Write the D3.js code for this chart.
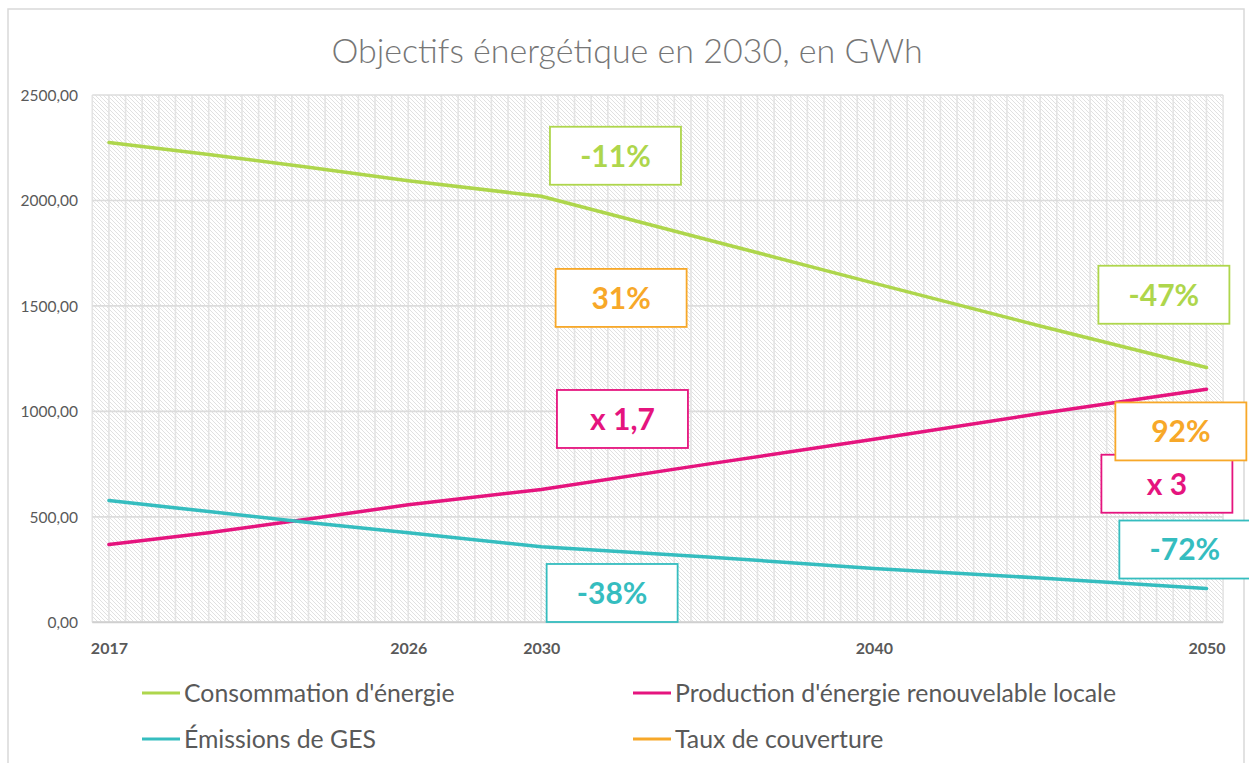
<!DOCTYPE html>
<html>
<head>
<meta charset="utf-8">
<script src="https://cdn.jsdelivr.net/npm/d3@7"></script>
<style>
  html, body { margin: 0; padding: 0; background: #ffffff; }
  svg { display: block; }
</style>
</head>
<body>
<svg id="chart" width="1249" height="763"></svg>
<script>
// ---------------- DATA ----------------
const titleText = "Objectifs énergétique en 2030, en GWh";
const years = [2017,2018,2019,2020,2021,2022,2023,2024,2025,2026,2027,2028,2029,2030,2031,2032,2033,
               2034,2035,2036,2037,2038,2039,2040,2041,2042,2043,2044,2045,2046,2047,2048,2049,2050];
const xTickLabels = [2017, 2026, 2030, 2040, 2050];
const yTicks = [0, 500, 1000, 1500, 2000, 2500];

const seriesNames = ["Consommation d'énergie", "Production d'énergie renouvelable locale", "Émissions de GES", "Taux de couverture"];
const seriesColors = ["#aed64c", "#e5147e", "#35bdbf", "#f7a829"];

const pointYears   = [2017, 2020, 2023, 2026, 2030, 2035, 2040, 2045, 2050];
const consommation = [2275, 2218, 2157, 2093, 2020, 1814, 1608, 1405, 1208];
const production   = [369,  425,  490,  557,  630,  750,  868,  990,  1105];
const emissions    = [577,  525,  473,  425,  358,  310,  255,  210,  160];

// annotation boxes (label, series index, anchor year, anchor value)
const annotLabels = ["-11%", "31%", "-47%", "x 1,7", "x 3", "92%", "-38%", "-72%"];
const annotSeries = [0, 3, 0, 1, 1, 3, 2, 2];
const annotYears  = [2032.23, 2032.4, 2048.72, 2032.44, 2048.81, 2049.23, 2032.13, 2049.35];
const annotValues = [2212, 1538, 1553, 964, 657, 905, 139, 345];

// ---------------- LAYOUT ----------------
const plot = { left: 92.3, right: 1223.1, top: 95, bottom: 622.3 };
const svg = d3.select("#chart");
const FONT = "Lato, 'Open Sans', 'DejaVu Sans', sans-serif";

const x = d3.scaleLinear().domain([years[0] - 0.5, years[years.length - 1] + 0.5]).range([plot.left, plot.right]);
const y = d3.scaleLinear().domain([0, 2500]).range([plot.bottom, plot.top]);

// chart area border
svg.append("rect").attr("x", 8).attr("y", 9).attr("width", 1236).attr("height", 770)
  .attr("fill", "#ffffff").attr("stroke", "#d9d9d9").attr("stroke-width", 1.5);

// hatch pattern
const defs = svg.append("defs");
const pat = defs.append("pattern").attr("id", "hatch").attr("patternUnits", "userSpaceOnUse")
  .attr("width", 4).attr("height", 4);
pat.append("rect").attr("width", 4).attr("height", 4).attr("fill", "#ffffff");
pat.append("path").attr("d", "M0,0 L4,4 M-1,3 L1,5 M3,-1 L5,1")
  .attr("stroke", "#dedede").attr("stroke-width", 0.9);

svg.append("rect").attr("x", plot.left).attr("y", plot.top)
  .attr("width", plot.right - plot.left).attr("height", plot.bottom - plot.top)
  .attr("fill", "url(#hatch)");

// vertical gridlines (category boundaries and centres)
const vGrid = d3.range(years[0] - 0.5, years[years.length - 1] + 0.51, 0.5);
svg.append("g").selectAll("line").data(vGrid).join("line")
  .attr("x1", d => x(d)).attr("x2", d => x(d))
  .attr("y1", plot.top).attr("y2", plot.bottom)
  .attr("stroke", "#e4e4e4").attr("stroke-width", 1.6);

// horizontal gridlines
svg.append("g").selectAll("line").data(yTicks).join("line")
  .attr("x1", plot.left).attr("x2", plot.right)
  .attr("y1", d => y(d)).attr("y2", d => y(d))
  .attr("stroke", "#dcdcdc").attr("stroke-width", 1.6);

// bottom axis line
svg.append("line").attr("x1", plot.left).attr("x2", plot.right)
  .attr("y1", plot.bottom).attr("y2", plot.bottom)
  .attr("stroke", "#d0d0d0").attr("stroke-width", 2);

// y axis labels
const yAxis = d3.axisLeft(y).tickValues(yTicks).tickSize(0).tickPadding(0)
  .tickFormat(d => d3.format(".2f")(d).replace(".", ","));
const gy = svg.append("g").attr("transform", `translate(78,0)`).call(yAxis);
gy.select(".domain").remove();
gy.selectAll("text").attr("font-family", FONT).attr("font-size", 15.5)
  .attr("fill", "#595959").attr("dy", "0.35em");

// x axis labels
const xAxis = d3.axisBottom(x).tickValues(xTickLabels).tickSize(0).tickPadding(0).tickFormat(d3.format("d"));
const gx = svg.append("g").attr("transform", `translate(0,${plot.bottom + 26})`).call(xAxis);
gx.select(".domain").remove();
gx.selectAll("text").attr("font-family", FONT).attr("font-size", 16).attr("font-weight", "bold")
  .attr("fill", "#595959").attr("dy", "0.35em");

// title
svg.append("text").attr("x", 627).attr("y", 49).attr("text-anchor", "middle")
  .attr("dominant-baseline", "central")
  .attr("font-family", FONT).attr("font-weight", 300).attr("font-size", 34)
  .attr("fill", "#767676").text(titleText);

// series lines
const line = d3.line().x(d => x(d[0])).y(d => y(d[1]));
const seriesData = [consommation, production, emissions];
seriesData.forEach((vals, i) => {
  svg.append("path")
    .datum(pointYears.map((yr, j) => [yr, vals[j]]))
    .attr("d", line).attr("fill", "none")
    .attr("stroke", seriesColors[i]).attr("stroke-width", 3.5)
    .attr("stroke-linejoin", "round").attr("stroke-linecap", "round");
});

// annotation boxes
const boxW = 131, boxH = 58;
annotLabels.forEach((lab, i) => {
  const cx = x(annotYears[i]), cy = y(annotValues[i]);
  const c = seriesColors[annotSeries[i]];
  const g = svg.append("g");
  g.append("rect").attr("x", cx - boxW / 2).attr("y", cy - boxH / 2)
    .attr("width", boxW).attr("height", boxH)
    .attr("fill", "#ffffff").attr("stroke", c).attr("stroke-width", 1.8);
  g.append("text").attr("x", cx).attr("y", cy).attr("dy", "0.36em")
    .attr("text-anchor", "middle").attr("font-family", FONT).attr("font-weight", "bold")
    .attr("font-size", 30).attr("fill", c).text(lab);
});

// legend
const legX = [142, 633], legY = [693, 739];
seriesNames.forEach((name, i) => {
  const col = i % 2, row = Math.floor(i / 2);
  const lx = legX[col], ly = legY[row];
  svg.append("line").attr("x1", lx).attr("x2", lx + 38).attr("y1", ly).attr("y2", ly)
    .attr("stroke", seriesColors[i]).attr("stroke-width", 3.2);
  svg.append("text").attr("x", lx + 42).attr("y", ly).attr("dy", "0.35em")
    .attr("font-family", FONT).attr("font-size", 24.8).attr("fill", "#595959").text(name);
});
</script>
</body>
</html>
